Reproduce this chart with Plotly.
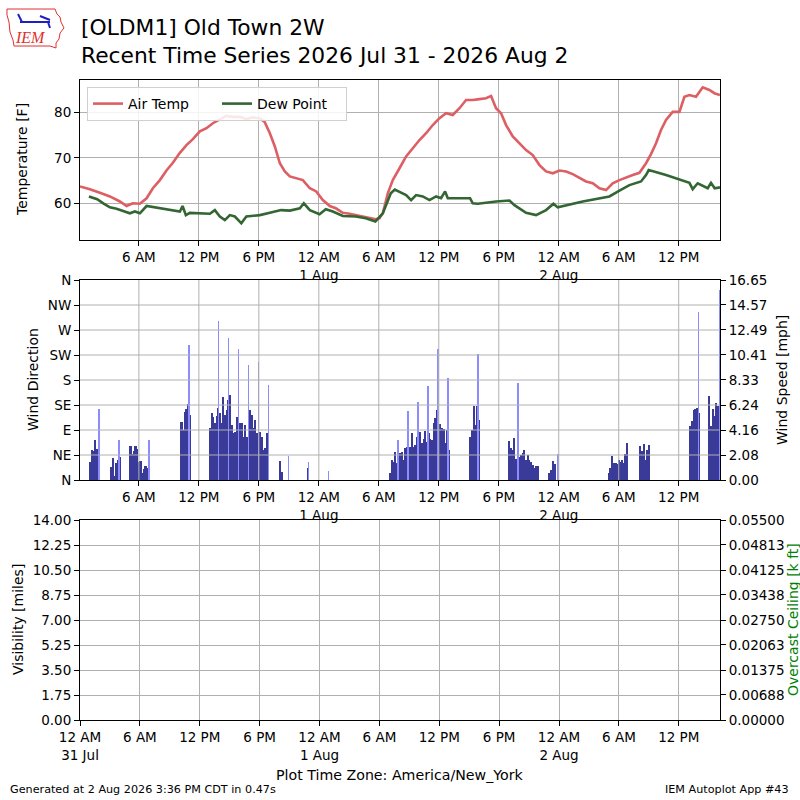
import pandas as pd
import plotly.graph_objects as go

base = pd.Timestamp("2026-07-31 00:00")

# temperature trace, hours since 31 Jul 00:00 local
temp_hours = [0.11, 1.1, 2.1, 3.1, 4.1, 4.77, 5.4, 6.1, 6.77, 7.4, 8.1, 8.76, 9.4, 10.1,
              10.76, 11.4, 12.1, 12.76, 13.4, 14.1, 14.75, 15.4, 16.1, 16.75, 17.4, 18.08,
              18.58, 19.1, 19.6, 20.1, 20.6, 21.1, 21.75, 22.4, 23.1, 23.74, 24.4, 25.1,
              25.7, 26.4, 27.07, 27.7, 28.4, 29.06, 29.7, 30.06, 30.4, 30.9, 31.4, 32.07,
              32.73, 33.4, 34.07, 34.73, 35.4, 36.07, 36.73, 37.4, 38.07, 38.73, 39.4,
              40.07, 40.73, 41.23, 41.73, 42.23, 42.73, 43.4, 44.07, 44.73, 45.4, 46.07,
              46.73, 47.4, 48.07, 48.73, 49.4, 50.07, 50.73, 51.4, 52.07, 52.73, 53.4,
              54.07, 54.73, 55.4, 56.07, 56.73, 57.23, 57.73, 58.23, 58.73, 59.4, 60.07,
              60.57, 61.07, 61.73, 62.4, 63.07, 63.57, 64.13]
temp_f = [63.7, 63.1, 62.3, 61.5, 60.4, 59.4, 60.0, 59.9, 61.1, 63.3, 65.1, 67.2, 68.9, 71.1,
          72.8, 74.1, 75.8, 76.5, 77.6, 78.5, 79.2, 79.0, 79.0, 78.5, 78.9, 78.7,
          77.9, 75.4, 72.5, 68.8, 67.0, 65.9, 65.5, 65.1, 63.3, 62.6, 60.7, 59.4,
          58.9, 57.9, 57.7, 57.4, 57.2, 56.9, 56.5, 56.7, 57.8, 62.2, 65.1, 67.7,
          70.3, 72.1, 73.9, 75.4, 77.2, 78.7, 79.8, 79.4, 80.9, 82.7, 82.7,
          82.9, 83.1, 83.6, 80.9, 79.8, 77.2, 74.7, 73.2, 71.7, 70.6, 68.4,
          67.0, 66.6, 67.2, 67.0, 66.4, 65.5, 64.8, 64.4, 63.3, 62.9, 64.4,
          65.1, 65.7, 66.2, 66.7, 68.8, 70.8, 73.2, 76.1, 78.3, 80.1, 80.1,
          83.4, 83.8, 83.4, 85.5, 84.9, 84.2, 83.8]

dwpt_hours = [1.0, 1.83, 2.44, 3.1, 3.77, 4.44, 5.1, 5.6, 6.1, 6.77, 7.77, 8.76, 10.1, 10.37,
              10.7, 11.1, 12.1, 13.1, 13.6, 14.1, 14.6, 15.1, 15.6, 16.25, 16.75, 17.4,
              18.1, 19.1, 20.23, 21.1, 22.1, 22.5, 23.1, 24.07, 24.7, 25.4, 26.4, 27.7,
              28.7, 29.66, 30.4, 31.2, 31.6, 32.07, 32.73, 33.23, 33.73, 34.4, 35.07,
              35.73, 36.23, 36.63, 36.9, 38.07, 39.13, 39.4, 39.9, 41.73, 43.07, 43.57,
              44.73, 45.73, 46.73, 47.47, 47.9, 50.4, 53.07, 54.07, 55.07, 56.23, 56.73,
              57.0, 58.73, 61.07, 61.4, 61.9, 62.9, 63.23, 63.6, 64.13]
dwpt_f = [61.5, 60.9, 60.0, 59.1, 58.8, 58.3, 57.8, 58.2, 57.8, 59.4, 59.0, 58.7, 58.2, 59.4,
          57.4, 57.9, 57.8, 57.7, 58.5, 57.1, 56.3, 57.4, 57.1, 55.6, 57.1, 57.2,
          57.4, 57.9, 58.5, 58.4, 58.9, 60.0, 58.5, 57.6, 58.7, 58.2, 57.2, 57.1,
          56.7, 56.0, 57.8, 62.2, 63.0, 62.5, 61.8, 60.7, 61.8, 61.5, 60.7,
          61.5, 61.1, 62.6, 61.1, 61.1, 61.1, 60.0, 59.9, 60.4, 60.6, 59.6,
          57.9, 57.4, 58.5, 59.9, 59.1, 60.4, 61.5, 62.8, 64.0, 64.8, 66.2,
          67.3, 66.2, 64.5, 63.1, 64.4, 63.3, 64.5, 63.3, 63.5]

# sustained wind, 10 minute bins: start hour of each run of reports and its speeds
wind_starts = [1.08, 3.2, 5.1, 6.1, 10.2, 13.05, 20.06, 22.9, 31.1, 39.1, 43.0, 46.95,
               47.2, 47.9, 52.95, 56.1, 61.1, 63.0]
wind_runs = [
    [1.5, 2.5, 2.4, 3.3, 2.6, 2.3],
    [1.1, 1.8, 0.3, 1.4, 1.7, 1.9],
    [2.85, 2.2, 2.4, 2.85, 2.6, 1.5],
    [1.6, 0.6, 0.9, 1.2, 1.0, 1.9],
    [4.8, 4.2, 5.7, 5.9, 6.3, 5.4],
    [4.3, 5.55, 5.27, 4.72, 5.33, 5.96, 5.55, 4.72, 6.88, 5.41, 5.83, 6.66,
     7.08, 4.58, 3.89, 4.03, 5.27, 3.61, 4.72, 4.72, 3.61, 4.58, 3.61, 3.33,
     5.83, 5.41, 4.3, 5.0, 3.89, 3.05, 4.03, 3.61, 2.5, 2.64, 3.89, 2.9],
    [1.6, 0.7],
    [1.0],
    [0.61, 1.67, 1.53, 2.36, 1.39, 0.69, 2.28, 2.36, 1.67, 2.64, 2.78, 2.5,
     2.78, 3.89, 2.78, 2.91, 3.61, 3.61, 4.02, 3.05, 3.39, 4.11, 3.19, 3.89,
     3.39, 3.33, 4.72, 5.14, 5.83, 3.89, 4.66, 4.3, 4.22, 3.05, 4.16, 2.5],
    [3.6, 4.2, 6.2, 4.6, 6.2, 5.0],
    [3.27, 2.64, 2.5, 3.47, 1.72, 1.39, 1.94, 2.08, 2.22, 2.5, 1.67, 2.08,
     1.67, 1.53, 1.25, 0.97, 1.17, 1.17],
    [0.6],
    [0.8, 1.6, 1.3],
    [1.0],
    [0.6, 1.0, 2.0, 1.4, 1.4, 1.3, 1.7, 1.5, 1.7, 1.4, 2.2, 3.1],
    [2.8, 2.4, 3.0, 1.7, 2.5, 2.9],
    [4.5, 4.9, 5.8, 5.9, 6.0, 5.6],
    [7.0, 4.5, 5.9, 5.3, 6.4, 6.2],
]

gust_hours = [2.0, 4.0, 7.0, 11.0, 13.98, 14.98, 15.98, 16.98, 17.97, 18.97, 20.97, 22.96,
              24.96, 31.95, 32.95, 33.95, 34.95, 35.95, 36.95, 39.93, 43.93, 47.93, 61.99,
              64.08]
gust_mph = [5.9, 3.3, 3.3, 11.2, 13.2, 11.8, 10.9, 9.6, 9.85, 7.9, 2.0, 1.5,
            0.75, 3.33, 5.75, 6.5, 7.8, 10.9, 8.5, 10.5, 8.1, 2.2, 13.96,
            15.8]

tick_hours = [0, 6, 12, 18, 24, 30, 36, 42, 48, 54, 60]
tick_text = ["12 AM<br>31 Jul", "6 AM", "12 PM", "6 PM", "12 AM<br>1 Aug", "6 AM",
             "12 PM", "6 PM", "12 AM<br>2 Aug", "6 AM", "12 PM"]

dir_ticks = [0, 45, 90, 135, 180, 225, 270, 315, 360]
dir_text = ["N", "NE", "E", "SE", "S", "SW", "W", "NW", "N"]
speed_ticks = [0, 2.08, 4.16, 6.24, 8.33, 10.41, 12.49, 14.57, 16.65]
vis_ticks = [0, 1.75, 3.5, 5.25, 7.0, 8.75, 10.5, 12.25, 14.0]
ceil_ticks = [0, 0.00688, 0.01375, 0.02063, 0.0275, 0.03438, 0.04125, 0.04813, 0.055]


def at(hours):
    return base + pd.to_timedelta(hours, unit="h")


def px(x, y):
    # pixel position in the 800x800 page -> paper coordinates
    return (x - 80) / 640, (720 - y) / 640


speed_x, speed_y = [], []
for start, run in zip(wind_starts, wind_runs):
    for i, v in enumerate(run):
        speed_x.append(start + (i + 0.5) / 6)
        speed_y.append(v)

FONT = "DejaVu Sans"
GRID = "#b0b0b0"

fig = go.Figure()
fig.add_trace(go.Scatter(x=at(temp_hours), y=temp_f, name="Air Temp", mode="lines",
                         line=dict(color="#dd5e63", width=2.6), xaxis="x", yaxis="y"))
fig.add_trace(go.Scatter(x=at(dwpt_hours), y=dwpt_f, name="Dew Point", mode="lines",
                         line=dict(color="#336633", width=2.6), xaxis="x", yaxis="y"))
fig.add_trace(go.Scatter(x=[], y=[], xaxis="x2", yaxis="y2", showlegend=False))
fig.add_trace(go.Bar(x=at(speed_x), y=speed_y, xaxis="x2", yaxis="y3", width=600000,
                     marker=dict(color="#3a3a98", line_width=0), showlegend=False))
fig.add_trace(go.Bar(x=at(gust_hours), y=gust_mph, xaxis="x2", yaxis="y3", width=240000,
                     marker=dict(color="#8c8cff", line_width=0), showlegend=False))
fig.add_trace(go.Scatter(x=[], y=[], xaxis="x3", yaxis="y4", showlegend=False))
fig.add_trace(go.Scatter(x=[], y=[], xaxis="x3", yaxis="y5", showlegend=False))

tickfont = dict(family=FONT, size=13.5, color="black")


def xax(domain_anchor, rng, grid=True):
    return dict(type="date", domain=[0, 1], anchor=domain_anchor, range=rng,
                tickvals=at(tick_hours), ticktext=tick_text, ticks="outside", ticklen=5,
                tickcolor="black", showline=True, linecolor="black", mirror=True,
                showgrid=grid, gridcolor=GRID, zeroline=False, tickfont=tickfont)


def yax(domain, anchor, rng, vals, text, grid=True, **kw):
    d = dict(domain=domain, anchor=anchor, range=rng, tickvals=vals, ticktext=text,
             ticks="outside", ticklen=5, tickcolor="black", showline=True,
             linecolor="black", showgrid=grid, gridcolor=GRID, zeroline=False,
             tickfont=tickfont)
    d.update(kw)
    return d


top_rng = [at(0.11), at(64.13)]
bot_rng = [at(0.0), at(64.13)]

fig.update_layout(
    width=800, height=800,
    margin=dict(l=80, r=80, t=80, b=80),
    paper_bgcolor="white", plot_bgcolor="white",
    font=dict(family=FONT, size=13.5, color="black"),
    barmode="overlay", bargap=0,
    xaxis=xax("y", top_rng),
    xaxis2=xax("y2", top_rng, grid=False),
    xaxis3=xax("y4", bot_rng),
    yaxis=yax([0.75, 1.0], "x", [51.93, 87.1], [60, 70, 80], ["60", "70", "80"], mirror=True),
    yaxis2=yax([0.375, 0.6875], "x2", [0, 360], dir_ticks, dir_text, grid=False, mirror=True),
    yaxis3=yax([0.375, 0.6875], "x2", [0, 16.65], speed_ticks,
               [f"{v:.2f}" for v in speed_ticks], grid=False, overlaying="y2", side="right"),
    yaxis4=yax([0, 0.3125], "x3", [0, 14], vis_ticks,
               [f"{v:.2f}" for v in vis_ticks], mirror=True),
    yaxis5=yax([0, 0.3125], "x3", [0, 0.055], ceil_ticks,
               [f"{v:.5f}" for v in ceil_ticks], grid=False, overlaying="y4", side="right"),
    legend=dict(orientation="h", x=px(87, 0)[0], y=px(0, 87)[1], xanchor="left",
                yanchor="top", bgcolor="rgba(255,255,255,0.85)", bordercolor="#d0d0d0",
                borderwidth=1, font=dict(family=FONT, size=14, color="black"),
                entrywidth=84, entrywidthmode="pixels", tracegroupgap=0),
)

# grid of the wind panel sits on top of the bars
shapes = []
for h in tick_hours[1:]:
    shapes.append(dict(type="line", xref="x2", yref="y2 domain", x0=at(h), x1=at(h),
                       y0=0, y1=1, line=dict(color=GRID, width=1), layer="above"))
for d in dir_ticks[1:-1]:
    shapes.append(dict(type="line", xref="x2 domain", yref="y2", x0=0, x1=1, y0=d, y1=d,
                       line=dict(color=GRID, width=1), layer="above"))

# rough IEM logo
iowa = [(7, 9), (55, 9), (57, 14), (60, 17), (61, 22), (64, 28), (60, 33), (59, 39),
        (56, 43), (56, 48), (50, 46), (14, 46), (13, 40), (10, 32), (9, 22), (7, 15)]
path = "M " + " L ".join(f"{px(x, y)[0]:.4f},{px(x, y)[1]:.4f}" for x, y in iowa) + " Z"
shapes.append(dict(type="path", xref="paper", yref="paper", path=path,
                   line=dict(color="#e03030", width=1)))
for (x0, y0), (x1, y1) in [((20, 22), (50, 22)), ((40, 16), (50, 20)), ((18, 14), (22, 22)),
                           ((48, 22), (50, 28))]:
    a, b = px(x0, y0), px(x1, y1)
    shapes.append(dict(type="line", xref="paper", yref="paper", x0=a[0], y0=a[1],
                       x1=b[0], y1=b[1], line=dict(color="#2020c0", width=2)))
fig.update_layout(shapes=shapes)

ann = []


def note(x, y, text, size=14, xanchor="center", angle=0, color="black", family=FONT):
    p = px(x, y)
    ann.append(dict(x=p[0], y=p[1], xref="paper", yref="paper", text=text,
                    showarrow=False, xanchor=xanchor, yanchor="middle", textangle=angle,
                    font=dict(family=family, size=size, color=color)))


note(79, 28, "[OLDM1] Old Town 2W", size=21.8, xanchor="left")
note(79, 55, "Recent Time Series 2026 Jul 31 - 2026 Aug 2", size=21.8, xanchor="left")
note(30, 38, "<i>IEM</i>", size=16, color="#e03030", family="Liberation Serif")
note(22, 160, "Temperature [F]", angle=-90)
note(33, 380, "Wind Direction", angle=-90)
note(782, 380, "Wind Speed [mph]", angle=-90)
note(18, 620, "Visibility [miles]", angle=-90)
note(793, 620, "Overcast Ceiling [k ft]", angle=-90, color="green")
note(400, 775, "Plot Time Zone: America/New_York", size=14.2)
note(8, 789, "Generated at 2 Aug 2026 3:36 PM CDT in 0.47s", size=11.2, xanchor="left")
note(791, 789, "IEM Autoplot App #43", size=11.2, xanchor="right")
fig.update_layout(annotations=ann)

# page has a default body margin; drop it so the figure fills the window
fig.write_html("out.html", config={"displayModeBar": False},
               post_script="document.body.style.margin='0';")
